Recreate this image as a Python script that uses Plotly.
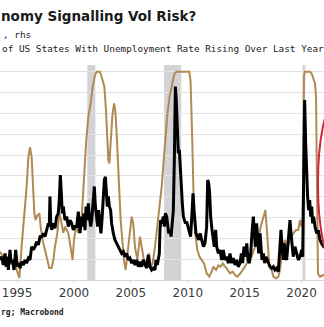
import plotly.graph_objects as go

# % of US states with unemployment rate rising over the last year (0-100)
gold_years = [
    1993.50, 1993.94, 1994.38, 1994.82, 1995.02, 1995.20, 1995.40, 1995.61, 1995.84, 1995.99,
    1996.14, 1996.28, 1996.43, 1996.52, 1996.63, 1996.78, 1996.96, 1997.07, 1997.25, 1997.45,
    1997.60, 1997.83, 1998.04, 1998.19, 1998.33, 1998.54, 1998.71, 1998.86, 1999.06, 1999.21,
    1999.50, 1999.71, 1999.88, 2000.00, 2000.18, 2000.38, 2000.55, 2000.68, 2000.88, 2001.06,
    2001.26, 2001.47, 2001.64, 2001.85, 2001.99, 2002.28, 2002.43, 2002.58, 2002.67, 2002.81,
    2002.93, 2003.02, 2003.11, 2003.22, 2003.37, 2003.52, 2003.63, 2003.75, 2003.84, 2003.96,
    2004.10, 2004.25, 2004.39, 2004.54, 2004.69, 2004.86, 2005.07, 2005.21, 2005.36, 2005.57,
    2005.80, 2005.95, 2006.09, 2006.24, 2006.39, 2006.59, 2006.74, 2006.91, 2007.12, 2007.32,
    2007.50, 2007.71, 2007.85, 2008.00, 2008.20, 2008.40, 2008.55, 2008.70, 2008.82, 2009.00,
    2010.14, 2010.25, 2010.34, 2010.40, 2010.49, 2010.57, 2010.72, 2010.84, 2011.02, 2011.22,
    2011.43, 2011.66, 2011.89, 2012.10, 2012.24, 2012.48, 2012.69, 2012.89, 2013.07, 2013.27,
    2013.42, 2013.71, 2013.94, 2014.15, 2014.35, 2014.59, 2015.03, 2015.32, 2015.61, 2015.91,
    2016.20, 2016.41, 2016.58, 2016.70, 2016.82, 2016.93, 2017.05, 2017.17, 2017.37, 2017.52,
    2017.75, 2017.96, 2018.10, 2018.34, 2018.54, 2018.75, 2018.98, 2019.27, 2019.51, 2019.71,
    2019.86, 2020.01, 2020.10, 2020.15, 2020.21, 2020.30, 2020.74, 2020.89, 2021.03, 2021.18,
    2021.27, 2021.33, 2021.39, 2021.44, 2021.62, 2021.91, 2022.00,
]
states_rising_pct = [
    13.6, 9.6, 8.0, 7.2, 4.0, 1.0, 16.0, 28.8, 44.8, 59.0,
    63.7, 59.0, 44.8, 32.0, 28.8, 31.0, 32.0, 25.6, 19.0, 14.4,
    9.6, 5.8, 5.8, 9.6, 16.0, 22.6, 32.0, 28.8, 22.6, 25.6,
    22.6, 16.0, 9.6, 19.2, 25.6, 22.6, 25.6, 30.0, 49.6, 65.6,
    78.4, 84.8, 92.8, 98.4, 100, 100, 97.6, 95.2, 92.8, 81.6,
    68.8, 57.6, 56.0, 67.2, 78.4, 84.8, 81.6, 70.4, 57.6, 41.6,
    28.8, 19.2, 9.6, 4.8, 12.8, 22.6, 30.4, 27.0, 16.0, 9.6,
    20.8, 16.0, 11.2, 6.4, 9.6, 12.8, 6.4, 8.0, 16.0, 25.6,
    32.0, 45.0, 55.0, 66.0, 79.0, 88.0, 92.0, 96.0, 99.0, 100,
    100, 95.0, 81.6, 65.6, 44.8, 28.8, 19.2, 14.4, 11.2, 9.6,
    8.0, 3.2, 1.6, 4.0, 6.4, 4.8, 7.0, 6.4, 8.0, 6.4,
    5.6, 3.2, 4.0, 2.4, 1.6, 3.0, 6.4, 9.6, 11.2, 16.0,
    19.2, 25.6, 28.8, 32.0, 33.6, 25.6, 16.0, 6.4, 4.8, 1.6,
    0.8, 1.6, 4.8, 16.0, 19.2, 16.0, 19.2, 22.4, 24.0, 24.0,
    28.8, 25.6, 30.0, 57.6, 98.0, 100, 100, 99.0, 96.8, 94.4,
    88.0, 57.6, 16.0, 3.0, 1.6, 2.4, 2.0,
]

# Volatility index level
vol_years = [
    1993.50, 1993.65, 1993.79, 1993.94, 1994.03, 1994.14, 1994.23, 1994.38, 1994.47, 1994.61,
    1994.73, 1994.88, 1994.96, 1995.05, 1995.17, 1995.26, 1995.40, 1995.55, 1995.70, 1995.84,
    1995.99, 1996.14, 1996.28, 1996.43, 1996.58, 1996.72, 1996.87, 1997.02, 1997.16, 1997.31,
    1997.45, 1997.60, 1997.75, 1997.83, 1997.89, 1997.95, 1998.04, 1998.19, 1998.33, 1998.48,
    1998.62, 1998.71, 1998.80, 1998.89, 1998.97, 1999.06, 1999.21, 1999.36, 1999.50, 1999.65,
    1999.80, 1999.94, 2000.09, 2000.24, 2000.38, 2000.53, 2000.68, 2000.76, 2000.88, 2000.97,
    2001.06, 2001.17, 2001.26, 2001.35, 2001.47, 2001.56, 2001.70, 2001.79, 2001.88, 2001.99,
    2002.08, 2002.17, 2002.28, 2002.37, 2002.46, 2002.58, 2002.67, 2002.76, 2002.84, 2002.93,
    2003.02, 2003.11, 2003.22, 2003.31, 2003.46, 2003.60, 2003.75, 2003.90, 2004.04, 2004.19,
    2004.34, 2004.48, 2004.63, 2004.78, 2004.92, 2005.07, 2005.22, 2005.36, 2005.51, 2005.66,
    2005.80, 2005.95, 2006.09, 2006.24, 2006.39, 2006.53, 2006.68, 2006.83, 2006.97, 2007.12,
    2007.21, 2007.32, 2007.44, 2007.50, 2007.56, 2007.62, 2007.73, 2007.85, 2007.94, 2008.03,
    2008.15, 2008.23, 2008.32, 2008.44, 2008.53, 2008.61, 2008.73, 2008.82, 2008.91, 2008.99,
    2009.08, 2009.17, 2009.26, 2009.35, 2009.43, 2009.52, 2009.61, 2009.70, 2009.79, 2009.90,
    2010.02, 2010.14, 2010.25, 2010.37, 2010.46, 2010.55, 2010.64, 2010.72, 2010.84, 2010.96,
    2011.08, 2011.22, 2011.37, 2011.51, 2011.66, 2011.75, 2011.84, 2011.92, 2012.01, 2012.13,
    2012.24, 2012.33, 2012.45, 2012.54, 2012.69, 2012.83, 2012.98, 2013.12, 2013.27, 2013.42,
    2013.56, 2013.71, 2013.86, 2014.00, 2014.15, 2014.30, 2014.44, 2014.59, 2014.71, 2014.82,
    2014.94, 2015.06, 2015.18, 2015.29, 2015.41, 2015.53, 2015.64, 2015.76, 2015.85, 2015.94,
    2016.05, 2016.14, 2016.23, 2016.35, 2016.43, 2016.52, 2016.64, 2016.76, 2016.87, 2016.99,
    2017.11, 2017.23, 2017.37, 2017.52, 2017.66, 2017.81, 2017.96, 2018.10, 2018.19, 2018.28,
    2018.40, 2018.48, 2018.57, 2018.69, 2018.84, 2018.98, 2019.07, 2019.16, 2019.27, 2019.42,
    2019.57, 2019.71, 2019.86, 2020.01, 2020.10, 2020.18, 2020.27, 2020.36, 2020.45, 2020.53,
    2020.62, 2020.71, 2020.80, 2020.89, 2020.97, 2021.06, 2021.18, 2021.33, 2021.47, 2021.62,
    2021.76, 2021.91, 2022.00,
]
vol_level = [
    13.6, 14.5, 12.2, 15.4, 11.7, 14.5, 10.8, 16.4, 12.7, 13.6,
    10.8, 16.4, 13.6, 11.7, 12.7, 11.3, 13.1, 12.2, 13.6, 12.7,
    14.1, 13.6, 17.3, 16.4, 17.3, 18.7, 17.8, 20.1, 20.1, 21.0,
    20.1, 22.4, 23.8, 22.9, 31.3, 24.7, 22.0, 23.8, 22.4, 25.7,
    26.6, 30.3, 37.3, 32.2, 26.6, 28.5, 24.7, 25.7, 22.9, 24.7,
    23.8, 22.0, 22.9, 22.9, 27.1, 21.1, 25.7, 22.9, 26.6, 21.9,
    28.5, 24.7, 29.4, 25.7, 22.9, 24.7, 31.3, 34.1, 28.5, 25.7,
    22.9, 27.5, 22.9, 21.0, 24.7, 32.2, 35.9, 36.8, 31.3, 28.5,
    31.3, 28.5, 27.5, 23.8, 21.0, 19.2, 18.2, 17.3, 16.4, 15.4,
    15.9, 14.5, 15.4, 13.6, 14.1, 12.7, 13.6, 12.2, 13.6, 11.7,
    13.1, 11.7, 13.6, 12.2, 11.3, 15.0, 11.7, 10.8, 11.3, 10.8,
    13.6, 12.2, 14.5, 15.4, 22.0, 24.7, 23.8, 25.7, 22.9, 26.6,
    25.7, 23.8, 21.0, 22.0, 20.1, 22.9, 27.5, 41.5, 62.0, 58.2,
    50.8, 43.4, 44.3, 38.7, 32.2, 29.4, 25.7, 24.7, 23.8, 24.3,
    22.9, 22.0, 20.1, 26.6, 32.2, 27.5, 22.9, 21.0, 20.1, 19.2,
    21.0, 19.2, 17.3, 18.2, 22.9, 35.9, 35.0, 32.2, 25.7, 22.0,
    19.2, 17.3, 22.0, 17.3, 15.4, 16.4, 13.6, 16.4, 13.6, 14.5,
    12.7, 15.4, 12.7, 14.1, 12.2, 13.6, 11.7, 12.7, 15.4, 12.7,
    17.3, 14.5, 18.2, 13.6, 12.7, 15.4, 21.0, 25.7, 21.0, 17.3,
    23.8, 19.2, 15.4, 21.0, 17.3, 13.6, 15.4, 12.7, 14.5, 13.6,
    12.2, 11.7, 11.3, 11.7, 10.8, 11.3, 10.3, 17.3, 22.0, 17.3,
    13.6, 18.2, 14.5, 13.6, 19.2, 24.7, 21.0, 17.3, 14.5, 17.3,
    15.4, 13.6, 14.5, 16.4, 14.5, 30.3, 58.2, 46.1, 34.1, 31.3,
    27.5, 30.3, 25.7, 28.5, 23.8, 25.7, 22.9, 21.0, 21.9, 19.2,
    18.2, 17.3, 17.0,
]

# US recessions (start, end) in decimal years
recessions = [(2001.17, 2001.88), (2007.92, 2009.42), (2020.08, 2020.33)]
tick_years = [1995, 2000, 2005, 2010, 2015, 2020]

GOLD = "#B08A52"
GRID = "#E2E2E2"

fig = go.Figure()
fig.add_trace(go.Scatter(
    x=gold_years, y=states_rising_pct, mode="lines",
    line=dict(color=GOLD, width=2), yaxis="y", showlegend=False,
))
fig.add_trace(go.Scatter(
    x=vol_years, y=vol_level, mode="lines",
    line=dict(color="black", width=3), yaxis="y2", showlegend=False,
))

shapes = [
    dict(type="rect", xref="x", yref="paper", x0=a, x1=b, y0=0, y1=1,
         fillcolor="#D3D3D6", line=dict(width=0), layer="below")
    for a, b in recessions
]
# highlight ring around the latest readings
shapes.append(dict(type="circle", xref="x", yref="y", x0=2021.44, x1=2024.25,
                   y0=8.6, y1=84.0, line=dict(color="#CF2A3A", width=2)))

mono = "DejaVu Sans Mono"
annotations = [
    dict(text="<b>nomy Signalling Vol Risk?</b>", x=0.0, y=1.226,
         font=dict(family="DejaVu Sans", size=13.5, color="#1a1a1a")),
    dict(text=", rhs", x=2 / 324, y=1.144,
         font=dict(family=mono, size=9.4, color="#222222")),
    dict(text="of US States With Unemployment Rate Rising Over Last Year",
         x=1 / 324, y=1.079, font=dict(family=mono, size=9.4, color="#222222")),
    dict(text="<b>rg; Macrobond</b>", x=0.0, y=-0.149,
         font=dict(family=mono, size=8, color="#222222")),
]
for a in annotations:
    a.setdefault("xanchor", "left")
    a.update(xref="paper", yref="paper", yanchor="middle", showarrow=False,
             borderpad=0)

fig.update_layout(
    width=324, height=327,
    margin=dict(l=0, r=0, t=65, b=47, pad=0),
    paper_bgcolor="white", plot_bgcolor="white",
    shapes=shapes, annotations=annotations,
    xaxis=dict(range=[1993.50, 2021.97], tickvals=tick_years,
               ticktext=[str(t) for t in tick_years], showgrid=False,
               showline=True, linecolor="#D6D6D6", linewidth=1,
               ticks="outside", ticklen=2, tickcolor="#D6D6D6",
               tickfont=dict(family="DejaVu Sans", size=12, color="#3a3a3a"),
               zeroline=False),
    yaxis=dict(range=[0, 103.2], dtick=10, showgrid=True, gridcolor=GRID,
               gridwidth=1, showticklabels=False, zeroline=False, ticks=""),
    yaxis2=dict(range=[8, 68], overlaying="y", side="right", showgrid=False,
                showticklabels=False, zeroline=False, ticks=""),
)

fig.write_html("out.html")
